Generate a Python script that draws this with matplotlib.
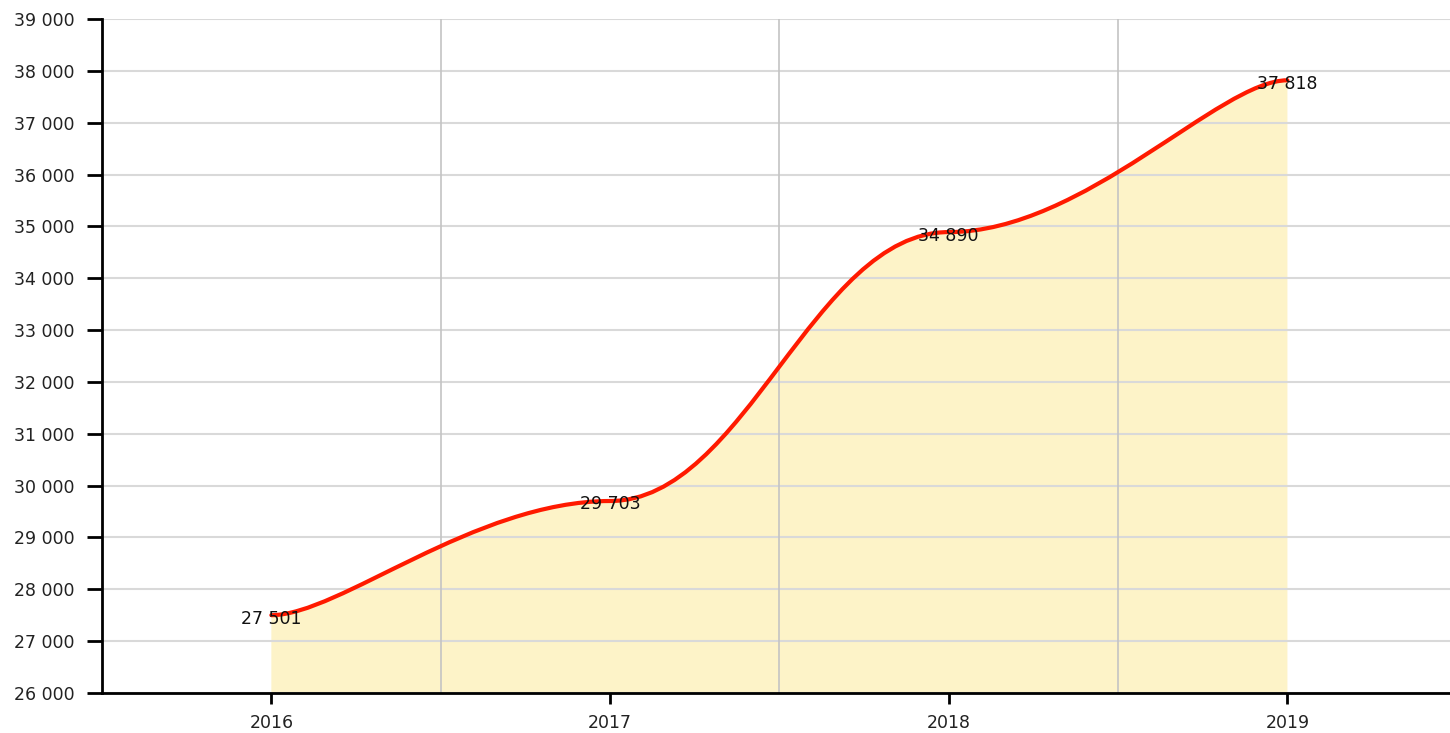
import numpy as np
import matplotlib.pyplot as plt
from matplotlib.path import Path
from matplotlib.patches import PathPatch
from matplotlib.ticker import FuncFormatter

years = ['2016', '2017', '2018', '2019']
values = [27501, 29703, 34890, 37818]
y_ticks = list(range(26000, 39001, 1000))


def fmt(v):
    return '{:,}'.format(int(v)).replace(',', ' ')


# smoothed line through the points, built as cubic bezier segments
# (tension style: control points offset along neighbours, x tension 0.8, y tension 1)
def tension_path(xs, ys, tx=0.8, ty=1.0):
    a = 1 - tx
    b = 1 - ty
    n = len(xs)
    verts = [(xs[0], ys[0])]
    codes = [Path.MOVETO]
    for i in range(n - 1):
        i0 = max(i - 1, 0)
        i3 = min(i + 2, n - 1)
        c1 = (xs[i] + a * (xs[i + 1] - xs[i0]), ys[i] + b * (ys[i + 1] - ys[i0]))
        c2 = (xs[i + 1] - a * (xs[i3] - xs[i]), ys[i + 1] - b * (ys[i3] - ys[i]))
        verts += [c1, c2, (xs[i + 1], ys[i + 1])]
        codes += [Path.CURVE4] * 3
    return verts, codes


x = np.arange(len(years), dtype=float)
verts, codes = tension_path(x, np.array(values, dtype=float))

fig = plt.figure(figsize=(14.5, 7.33), dpi=100)
ax = fig.add_axes([102 / 1450, 40 / 733, 1348 / 1450, 674 / 733])

ax.set_xlim(-0.5, 3.48)
ax.set_ylim(26000, 39000)

# fill under the curve
fill_verts = verts + [(x[-1], 26000), (x[0], 26000), verts[0]]
fill_codes = codes + [Path.LINETO, Path.LINETO, Path.CLOSEPOLY]
ax.add_patch(PathPatch(Path(fill_verts, fill_codes), facecolor='#fdf3c8', edgecolor='none', zorder=1))

# grid
for yv in y_ticks:
    ax.axhline(yv, color='#d9d9d9', lw=1.5, zorder=2)
for xv in x[:-1] + 0.5:
    ax.axvline(xv, color='#c4c4c4', lw=1.2, zorder=2)

ax.add_patch(PathPatch(Path(verts, codes), facecolor='none', edgecolor='#ff1a00', lw=3, zorder=3, capstyle='round'))

for xi, v in zip(x, values):
    ax.annotate(fmt(v), (xi, v), xytext=(0, -2.5), textcoords='offset points',
                ha='center', va='center', fontsize=12.5, color='#111111', zorder=4)

ax.set_xticks(x)
ax.set_xticklabels(years)
ax.set_yticks(y_ticks)
ax.yaxis.set_major_formatter(FuncFormatter(lambda v, p: fmt(v)))
ax.tick_params(axis='y', length=11, width=2, labelsize=12.5, pad=9, labelcolor='#222222')
ax.tick_params(axis='x', length=8, width=2, labelsize=12.5, pad=7, labelcolor='#222222')

for side in ['top', 'right']:
    ax.spines[side].set_visible(False)
for side in ['left', 'bottom']:
    ax.spines[side].set_linewidth(2)
    ax.spines[side].set_zorder(5)

fig.savefig('out.png', dpi=100)
